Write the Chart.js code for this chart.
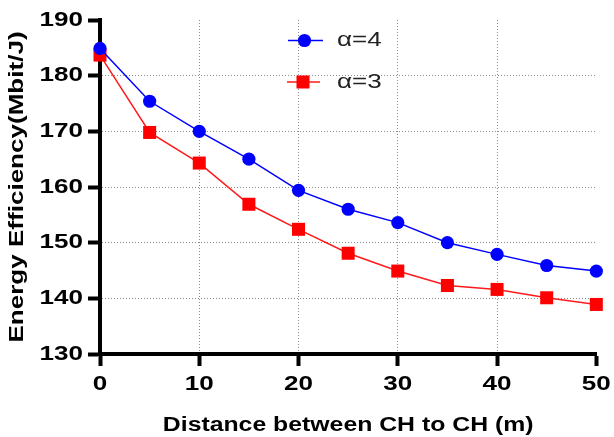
<!DOCTYPE html>
<html>
<head>
<meta charset="utf-8">
<script src="https://cdn.jsdelivr.net/npm/chart.js@4.4.1/dist/chart.umd.min.js"></script>
<style>
  html, body { margin: 0; padding: 0; background: #fff; }
  #wrap { width: 614px; height: 437px; }
</style>
</head>
<body>
<div id="wrap"><canvas id="c" width="614" height="437"></canvas></div>
<script>
// Distance between cluster heads (m)
const distances = [0, 5, 10, 15, 20, 25, 30, 35, 40, 45, 50];
// Energy efficiency (Mbit/J) for each path-loss exponent
const alpha4 = [184.9, 175.4, 170.0, 165.0, 159.4, 156.0, 153.6, 150.0, 147.9, 145.9, 144.9];
const alpha3 = [183.7, 169.8, 164.3, 156.9, 152.4, 148.1, 144.9, 142.3, 141.6, 140.1, 138.9];
const seriesLabels = ['α=4', 'α=3'];
const yTicks = { min: 130, max: 190, step: 10 };
const xTicks = { min: 0, max: 50, step: 10 };
const xTitle = 'Distance between CH to CH (m)';
const yTitle = 'Energy Efficiency(Mbit/J)';

const FONT = '"Liberation Sans", Arial, Helvetica, sans-serif';
const GRID = '#8c8c8c';

const canvas = document.getElementById('c');
const ctx = canvas.getContext('2d');

// Wide lettering: every string is stretched along its own baseline.
const TEXT_STRETCH = 1.24;
const nativeFill = CanvasRenderingContext2D.prototype.fillText;
ctx.fillText = function (text, x, y, maxWidth) {
  this.save();
  this.translate(x, y);
  this.scale(TEXT_STRETCH, 1);
  if (maxWidth === undefined) nativeFill.call(this, text, 0, 0);
  else nativeFill.call(this, text, 0, 0, maxWidth);
  this.restore();
};

// Legend drawn inside the plot area: line sample, marker, label.
const insetLegend = {
  id: 'insetLegend',
  afterDatasetsDraw(chart, args, opts) {
    const c = chart.ctx;
    chart.data.datasets.forEach((ds, i) => {
      const row = opts.rows[i];
      c.save();
      c.strokeStyle = ds.borderColor;
      c.lineWidth = ds.borderWidth;
      c.beginPath();
      c.moveTo(row.x0, row.y);
      c.lineTo(row.x1, row.y);
      c.stroke();
      c.fillStyle = ds.pointBackgroundColor;
      c.beginPath();
      if (ds.pointStyle === 'rect') {
        const h = ds.pointRadius * Math.SQRT1_2;
        c.rect(row.mx - h, row.y - h, 2 * h, 2 * h);
      } else {
        c.arc(row.mx, row.y, ds.pointRadius, 0, Math.PI * 2);
      }
      c.fill();
      c.font = '21px ' + FONT;
      c.fillStyle = '#222';
      c.textAlign = 'left';
      c.textBaseline = 'middle';
      c.fillText(ds.label, opts.textX, row.y);
      c.restore();
    });
  }
};

const toPoints = ys => distances.map((d, i) => ({ x: d, y: ys[i] }));

new Chart(ctx, {
  type: 'line',
  data: {
    datasets: [
      {
        label: seriesLabels[0],
        data: toPoints(alpha4),
        borderColor: '#0000ff',
        backgroundColor: '#0000ff',
        pointBackgroundColor: '#0000ff',
        pointBorderColor: '#0000ff',
        pointBorderWidth: 0,
        pointStyle: 'circle',
        pointRadius: 6.6,
        borderWidth: 1.5,
        tension: 0,
        clip: false
      },
      {
        label: seriesLabels[1],
        data: toPoints(alpha3),
        borderColor: '#ff1a1a',
        backgroundColor: '#ff0000',
        pointBackgroundColor: '#ff0000',
        pointBorderColor: '#ff0000',
        pointBorderWidth: 0,
        pointStyle: 'rect',
        pointRadius: 9.2,
        borderWidth: 1.5,
        tension: 0,
        clip: false
      }
    ]
  },
  options: {
    responsive: false,
    animation: false,
    devicePixelRatio: 1,
    layout: { padding: { left: 0, right: 15, top: 20, bottom: 0 } },
    plugins: {
      legend: { display: false },
      tooltip: { enabled: false },
      insetLegend: {
        textX: 337,
        rows: [
          { y: 40.5, x0: 288, x1: 323, mx: 304.5 },
          { y: 82, x0: 287, x1: 320, mx: 303 }
        ]
      }
    },
    scales: {
      x: {
        type: 'linear',
        min: xTicks.min,
        max: xTicks.max,
        ticks: {
          stepSize: xTicks.step,
          color: '#000',
          padding: 6,
          font: { family: FONT, size: 21, weight: 'bold' }
        },
        grid: {
          color: c => (c.tick && c.tick.value === xTicks.max) ? 'rgba(0,0,0,0)' : GRID,
          lineWidth: 1,
          tickColor: '#000',
          tickWidth: 4,
          tickLength: 12,
          tickBorderDash: []
        },
        border: { display: true, color: '#000', width: 4, dash: [1, 2] },
        title: {
          display: true,
          text: xTitle,
          color: '#000',
          padding: { top: 0, bottom: 0 },
          font: { family: FONT, size: 20, weight: 'bold', lineHeight: 1.2 }
        },
        afterFit: s => { s.height = 83; }
      },
      y: {
        type: 'linear',
        min: yTicks.min,
        max: yTicks.max,
        ticks: {
          stepSize: yTicks.step,
          color: '#000',
          padding: 5,
          font: { family: FONT, size: 21, weight: 'bold' }
        },
        grid: {
          color: c => (c.tick && c.tick.value === yTicks.max) ? 'rgba(0,0,0,0)' : GRID,
          lineWidth: 1,
          tickColor: '#000',
          tickWidth: 4,
          tickLength: 12,
          tickBorderDash: []
        },
        border: { display: true, color: '#000', width: 4, dash: [1, 2] },
        title: {
          display: true,
          text: yTitle,
          color: '#000',
          padding: { top: 5, bottom: 0 },
          font: { family: FONT, size: 21, weight: 'bold', lineHeight: 1.2 }
        },
        afterFit: s => { s.width = 100; }
      }
    }
  },
  plugins: [insetLegend]
});
</script>
</body>
</html>
